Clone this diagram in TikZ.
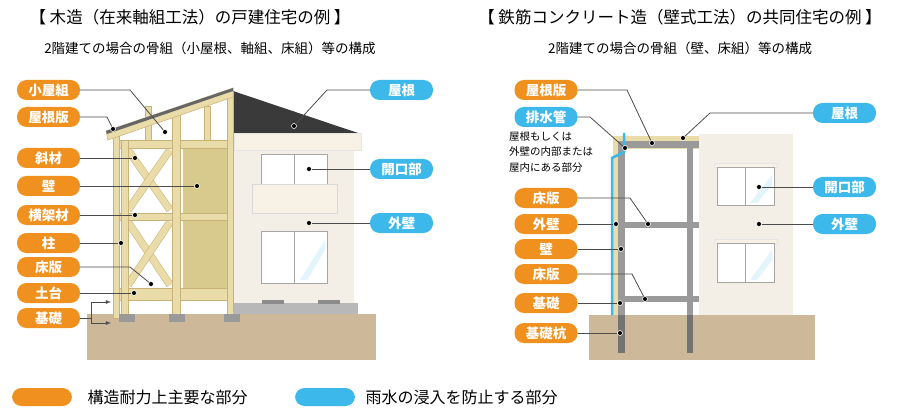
\documentclass[tikz,border=0pt]{standalone}
\usepackage{fontspec}
\setmainfont{Noto Sans CJK JP}
\begin{document}
\begin{tikzpicture}[x=1pt,y=-1pt,
 pill/.style={rounded corners=9.5pt,minimum width=63pt,minimum height=20pt,inner sep=0pt,text=white,font=\fontsize{13.5}{14}\selectfont\bfseries},
 opill/.style={pill,fill=orgc},
 bpill/.style={pill,fill=bluc},
 pt/.style={circle,fill=black,draw=white,line width=0.6pt,inner sep=0pt,minimum size=5pt},
 ld/.style={draw=black!70,line width=0.8pt},
 wood/.style={fill=woodc,draw=woodd,line width=0.5pt}]
\definecolor{orgc}{HTML}{F0901E}
\definecolor{bluc}{HTML}{3DB8EA}
\definecolor{woodc}{HTML}{EADCA8}
\definecolor{woodd}{HTML}{C9B27A}
\definecolor{panelc}{HTML}{D8CA8C}
\definecolor{groundc}{HTML}{CDB99A}
\definecolor{wallc}{HTML}{F3EEE6}
\definecolor{eavec}{HTML}{F7F1E6}
\definecolor{roofc}{HTML}{3A3A3A}
\definecolor{greyc}{HTML}{B8B8B8}
\definecolor{colc}{HTML}{9A9A9A}
\useasboundingbox (0,0) rectangle (900,409);
\fill[white] (0,0) rectangle (900,409);
% titles
\node[font=\fontsize{16.5}{17}\selectfont] (t1) at (190,17) {【 木造（在来軸組工法）の戸建住宅の例 】};
\node[font=\fontsize{16.5}{17}\selectfont] (t2) at (680,17) {【 鉄筋コンクリート造（壁式工法）の共同住宅の例 】};
\node[font=\fontsize{13.5}{14}\selectfont] (s1) at (210,48) {2階建ての場合の骨組（小屋根、軸組、床組）等の構成};
\node[font=\fontsize{13.5}{14}\selectfont] (s2) at (680,48) {2階建ての場合の骨組（壁、床組）等の構成};
% ===== LEFT =====
\fill[groundc] (87,314) rectangle (376,360);
% right house
\fill[wallc] (234,148) rectangle (354,303);
\fill[greyc] (234,303) rectangle (358,314);
\foreach \x in {262,318}{\fill[black!45] (\x,300) rectangle ++(22,4);}
\fill[roofc] (233,91) -- (358,133) -- (234,133) -- cycle;
\fill[eavec,draw=black!10] (234,133) rectangle (361,150);
\fill[white,draw=black!35] (261,154) rectangle (327,184);
\draw[black!35] (294,154) -- (294,184);
\fill[eavec,draw=black!15] (252,184) rectangle (337,213);
\fill[white,draw=black!35] (261,231) rectangle (327,283);
\draw[black!35] (294,231) -- (294,283);
\fill[bluc!15] (300,280) -- (325,240) -- (325,250) -- (307,280) -- cycle;
% wood frame
\fill[panelc] (183,148) rectangle (230,213);
\fill[panelc] (183,220) rectangle (230,288);
\foreach \yy/\yb in {148/213,220/288}{
 \draw[woodd,line width=7.5pt] (128,\yy+2) -- (170,\yb-3);
 \draw[woodc,line width=6.5pt] (128,\yy+2) -- (170,\yb-3);
 \draw[woodd,line width=7.5pt] (170,\yy+2) -- (128,\yb-3);
 \draw[woodc,line width=6.5pt] (170,\yy+2) -- (128,\yb-3);}
\foreach \x/\w in {145/6,204/6}{\draw[wood] (\x,106) rectangle ++(\w,34);}
\draw[wood] (119,140) rectangle (233,148);
\draw[wood] (119,213) rectangle (233,220);
\draw[wood] (119,288) rectangle (233,300);
\draw[wood] (113,130) rectangle (119,318);
\draw[wood] (121,140) rectangle (128,314);
\draw[wood] (172,112) rectangle (180,314);
\draw[wood] (227,92) rectangle (233,314);
\draw[wood] (106,131) -- (233,88) -- (233,97) -- (108,140) -- cycle;
\fill[black!60] (106,131) -- (233,88) -- (233,91) -- (107,134) -- cycle;
\foreach \x in {119,169,224}{\fill[black!40] (\x,314) rectangle ++(16,8);}
% left labels
\node[opill] (l1) at (48.5,90) {小屋組};
\node[opill] (l2) at (48.5,117) {屋根版};
\node[opill] (l3) at (48.5,158) {斜材};
\node[opill] (l4) at (48.5,186) {壁};
\node[opill] (l5) at (48.5,215) {横架材};
\node[opill] (l6) at (48.5,243) {柱};
\node[opill] (l7) at (48.5,267) {床版};
\node[opill] (l8) at (48.5,293) {土台};
\node[opill] (l9) at (48.5,318) {基礎};
\node[pt] (d1) at (165,132) {};
\node[pt] (d2) at (113,129) {};
\node[pt] (d3) at (135,158) {};
\node[pt] (d4) at (197,186) {};
\node[pt] (d5) at (135,215) {};
\node[pt] (d6) at (121,243) {};
\node[pt] (d7) at (151,284) {};
\node[pt] (d8) at (134,293) {};
\coordinate (fa) at (111,302);
\coordinate (fb) at (111,323);
\draw[ld] (l1.east) -- (130,90) -- (d1);
\draw[ld] (l2.east) -- (107,117) -- (d2);
\draw[ld] (l3.east) -- (d3);
\draw[ld] (l4.east) -- (d4);
\draw[ld] (l5.east) -- (d5);
\draw[ld] (l6.east) -- (d6);
\draw[ld] (l7.east) -- (130,267) -- (d7);
\draw[ld] (l8.east) -- (d8);
\draw[ld] (l9.east) -- (91,318);
\draw[ld,-latex] (91,318) |- (fa);
\draw[ld,-latex] (91,318) |- (fb);
\node[bpill] (r1) at (401.5,90) {屋根};
\node[bpill] (r2) at (401.5,169) {開口部};
\node[bpill] (r3) at (401.5,223) {外壁};
\node[pt] (e1) at (294,126) {};
\node[pt] (e2) at (309,169) {};
\node[pt] (e3) at (309,223) {};
\draw[ld] (r1.west) -- (327,90) -- (e1);
\draw[ld] (r2.west) -- (e2);
\draw[ld] (r3.west) -- (e3);
% ===== RIGHT =====
\fill[groundc] (589,315) rectangle (815,360);
\fill[wallc] (699,134) rectangle (793,315);
\fill[eavec,draw=black!10] (714,163) rectangle (777,167);
\fill[white,draw=black!35] (717,167) rectangle (774,205);
\draw[black!35] (745,167) -- (745,205);
\fill[eavec,draw=black!10] (714,239) rectangle (777,243);
\fill[white,draw=black!35] (717,243) rectangle (774,282);
\draw[black!35] (745,243) -- (745,282);
\fill[bluc!15] (750,280) -- (772,250) -- (772,260) -- (757,280) -- cycle;
\fill[bluc!15] (750,203) -- (772,175) -- (772,185) -- (757,203) -- cycle;
% frame
\fill[woodc] (613,136) rectangle (699,149);
\fill[woodc] (613,136) rectangle (619,315);
\fill[colc] (618,141) rectangle (699,148);
\fill[colc] (618,141) rectangle (625,353);
\fill[black!55] (618,315) rectangle (625,353);
\fill[colc] (687,141) rectangle (693,353);
\fill[black!55] (687,315) rectangle (693,353);
\fill[colc] (625,222) rectangle (699,228);
\fill[colc] (625,296) rectangle (699,302);
\draw[bluc,line width=2.5pt] (612,315) -- (612,158) -- (624,152) -- (624,133);
% labels
\node[opill] (m1) at (546,90) {屋根版};
\node[bpill] (m2) at (546,117) {排水管};
\node[font=\fontsize{10.5}{15.5}\selectfont,align=left,anchor=north west,inner sep=0pt] (mt) at (509,131) {屋根もしくは\\外壁の内部または\\屋内にある部分};
\node[opill] (m3) at (546,198) {床版};
\node[opill] (m4) at (546,224) {外壁};
\node[opill] (m5) at (546,249) {壁};
\node[opill] (m6) at (546,274) {床版};
\node[opill] (m7) at (546,303) {基礎};
\node[opill] (m8) at (546,333) {基礎杭};
\node[pt] (f1) at (652,143) {};
\node[pt] (f2) at (625,148) {};
\node[pt] (f3) at (648,224) {};
\node[pt] (f4) at (616,224) {};
\node[pt] (f5) at (621,249) {};
\node[pt] (f6) at (645,299) {};
\node[pt] (f7) at (620,303) {};
\node[pt] (f8) at (620,333) {};
\draw[ld] (m1.east) -- (627,90) -- (f1);
\draw[ld] (m2.east) -- (590,117) -- (f2);
\draw[ld] (m3.east) -- (630,198) -- (f3);
\draw[ld] (m4.east) -- (f4);
\draw[ld] (m5.east) -- (f5);
\draw[ld] (m6.east) -- (632,274) -- (f6);
\draw[ld] (m7.east) -- (f7);
\draw[ld] (m8.east) -- (f8);
\node[bpill] (n1) at (844.5,113) {屋根};
\node[bpill] (n2) at (844.5,187) {開口部};
\node[bpill] (n3) at (844.5,224) {外壁};
\node[pt] (g1) at (683,138) {};
\node[pt] (g2) at (759,187) {};
\node[pt] (g3) at (759,224) {};
\draw[ld] (n1.west) -- (710,113) -- (g1);
\draw[ld] (n2.west) -- (g2);
\draw[ld] (n3.west) -- (g3);
% legend
\node[opill,minimum width=60pt,minimum height=18pt] (k1) at (42,397) {};
\node[anchor=west,font=\fontsize{16}{17}\selectfont] (k1t) at (84,397) {構造耐力上主要な部分};
\node[bpill,minimum width=60pt,minimum height=18pt] (k2) at (325,397) {};
\node[anchor=west,font=\fontsize{16}{17}\selectfont] (k2t) at (362,397) {雨水の浸入を防止する部分};
\end{tikzpicture}
\end{document}
